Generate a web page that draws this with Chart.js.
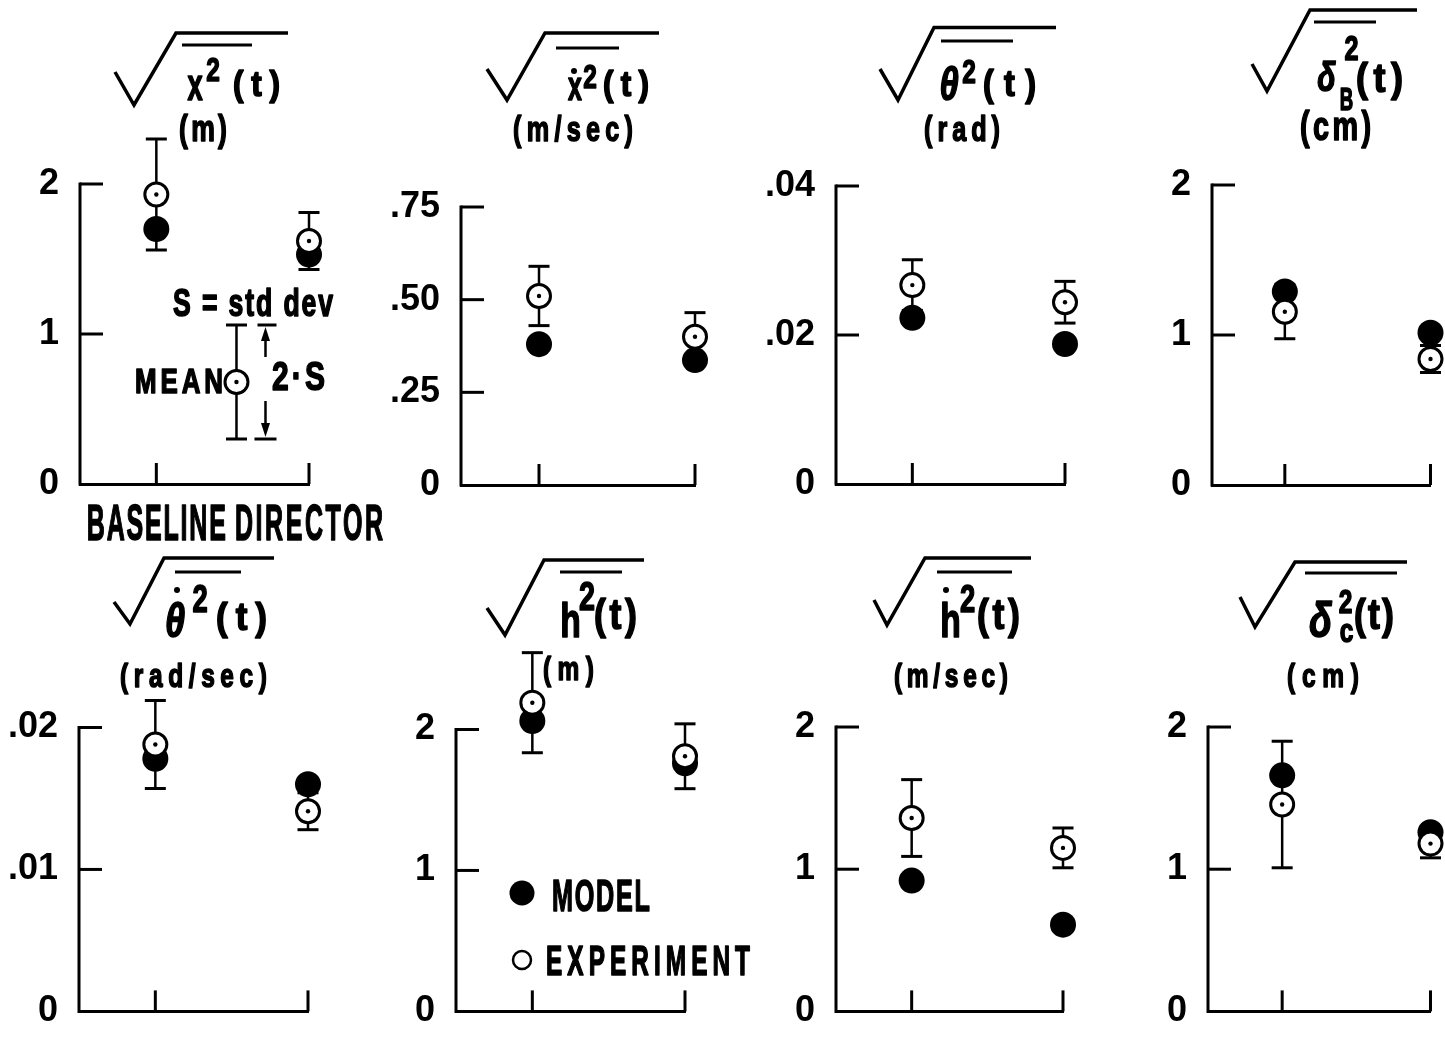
<!DOCTYPE html>
<html>
<head>
<meta charset="utf-8">
<title>RMS response: baseline vs director</title>
<script src="https://cdn.jsdelivr.net/npm/chart.js@4.4.1/dist/chart.umd.min.js"></script>
<style>
  html, body { margin: 0; padding: 0; background: #fff; overflow: hidden; }
  #stage { position: relative; width: 1445px; height: 1054px; }
  #stage canvas { position: absolute; left: 0; top: 0; }
</style>
</head>
<body>
<div id="stage"></div>
<script>
// ---------------- data ----------------
const categories = ['BASELINE', 'DIRECTOR'];
const categoryX = [1, 3];

const quantities = ['x', 'xdot', 'theta', 'deltaB', 'thetadot', 'h', 'hdot', 'deltaC'];
const units = ['(m)', '(m/sec)', '(rad)', '(cm)', '(rad/sec)', '(m)', '(m/sec)', '(cm)'];

// model prediction, [baseline, director]
const modelRms = [
  [1.70, 1.53], [0.38, 0.337], [0.0223, 0.0188], [1.29, 1.015],
  [0.0178, 0.0160], [2.06, 1.76], [0.92, 0.61], [1.66, 1.26]
];
// experiment mean, [baseline, director]
const expMean = [
  [1.93, 1.62], [0.51, 0.40], [0.0267, 0.0244], [1.155, 0.84],
  [0.0188, 0.0141], [2.19, 1.81], [1.36, 1.15], [1.455, 1.18]
];
// experiment standard deviation S (bars span mean - S .. mean + S)
const expStd = [
  [0.37, 0.19], [0.08, 0.065], [0.0034, 0.0028], [0.18, 0.09],
  [0.0031, 0.0013], [0.355, 0.23], [0.27, 0.14], [0.445, 0.10]
];

const yMax = [2, 0.75, 0.04, 2, 0.02, 2, 2, 2];
const yTicks = [
  [0, 1, 2], [0, 0.25, 0.5, 0.75], [0, 0.02, 0.04], [0, 1, 2],
  [0, 0.01, 0.02], [0, 1, 2], [0, 1, 2], [0, 1, 2]
];
const yTickLabels = [
  ['0', '1', '2'], ['0', '.25', '.50', '.75'], ['0', '.02', '.04'], ['0', '1', '2'],
  ['0', '.01', '.02'], ['0', '1', '2'], ['0', '1', '2'], ['0', '1', '2']
];

// key for the error bar symbol (first panel)
const keyMean = 0.68;
const keyStd = 0.38;

// ---------------- layout ----------------
const PAGE_W = 1445, PAGE_H = 1054;
const AXIS_W = 70;
const HEAD_ROOM = 1.3;   // scale runs past the top tick so high points still get drawn
const INK = '#000';
const FACE = '"Liberation Sans Narrow", "Liberation Sans", Arial, sans-serif';

// plot boxes: left = y axis, right = director tick, top = highest tick, bottom = zero
const frames = [
  { l: 80, r: 309, t: 184, b: 484 },
  { l: 461, r: 695, t: 207, b: 485 },
  { l: 836, r: 1065, t: 186, b: 484 },
  { l: 1212, r: 1440, t: 185, b: 485 },
  { l: 79, r: 308, t: 732, b: 1031 },
  { l: 456, r: 685, t: 734, b: 1031 },
  { l: 836, r: 1063, t: 732, b: 1033 },
  { l: 1208, r: 1438, t: 732, b: 1033 }
];

// square-root headings; parts = [text, left, baseline, size, width, squeeze, italic]
const heads = [
  { rad: [[115, 72], [134, 105], [176, 33], [288, 33]], bar: [182, 252, 45],
    parts: [['x', 187, 100, 44, 16, 0.62], ['2', 206, 81, 34, 14], ['(t)', 233, 96, 35, 47, 0.9]],
    dots: [], unit: [179, 141, 37, 48] },
  { rad: [[487, 69], [507, 100], [545, 33], [659, 33]], bar: [556, 619, 48],
    parts: [['x', 567, 100, 40, 16, 0.62], ['2', 583, 88, 34, 14], ['(t)', 603, 96, 35, 46, 0.9]],
    dots: [[574, 71]], unit: [513, 141, 35, 120] },
  { rad: [[880, 69], [898, 100], [934, 27.5], [1056, 27.5]], bar: [941, 1013, 41],
    parts: [['θ', 938, 100, 46, 22, 0.75, true], ['2', 961, 83, 34, 16], ['(t)', 983, 96, 36, 53, 0.9]],
    dots: [], unit: [924, 141, 35, 76] },
  { rad: [[1252, 64], [1267, 91], [1310, 10], [1417, 10]], bar: [1314, 1376, 22],
    parts: [['δ', 1313, 91, 40, 27, 0.75, true], ['2', 1343, 60, 35, 17], ['B', 1338, 110, 31, 17, 0.6],
            ['(t)', 1356, 92, 40, 47, 0.9]],
    dots: [], unit: [1300, 140, 40, 71] },
  { rad: [[114, 602], [130, 624], [164, 558], [274, 558]], bar: [175, 241, 572],
    parts: [['θ', 163, 637, 48, 24, 0.75, true], ['2', 190, 612, 38, 20], ['(t)', 216, 630, 39, 51, 0.9]],
    dots: [[177, 590]], unit: [120, 687, 34, 147] },
  { rad: [[487, 608], [505, 635], [544, 560], [644, 560]], bar: [560, 622, 572],
    parts: [['h', 561, 637, 48, 19, 0.7], ['2', 580, 610, 40, 14], ['(t)', 594, 629, 42, 43, 0.85]],
    dots: [], unit: [543, 680, 34, 51] },
  { rad: [[874, 600], [887, 625], [925, 558], [1031, 558]], bar: [937, 1012, 572],
    parts: [['h', 941, 637, 48, 19, 0.7], ['2', 960, 612, 38, 15], ['(t)', 977, 629, 42, 43, 0.85]],
    dots: [[946, 590]], unit: [894, 687, 34, 114] },
  { rad: [[1240, 597], [1255, 627], [1295, 562], [1407, 562]], bar: [1305, 1397, 573],
    parts: [['δ', 1304, 637, 50, 33, 0.75, true], ['2', 1337, 613, 34, 17], ['c', 1339, 642, 34, 15],
            ['(t)', 1354, 629, 42, 40, 0.85]],
    dots: [], unit: [1287, 687, 34, 72] }
];

// ---------------- drawing helpers ----------------
function line(ctx, x1, y1, x2, y2) {
  ctx.beginPath();
  ctx.moveTo(x1, y1);
  ctx.lineTo(x2, y2);
  ctx.stroke();
}

function dot(ctx, x, y, r) {
  ctx.beginPath();
  ctx.arc(x, y, r, 0, Math.PI * 2);
  ctx.fill();
}

// stencil-style lettering: condensed, heavy glyphs spread over a fixed width
function letter(ctx, text, left, base, size, width, squeeze, italic) {
  const sq = squeeze || 0.72;
  ctx.save();
  ctx.fillStyle = INK;
  ctx.strokeStyle = INK;
  ctx.lineWidth = 1.6;
  ctx.lineJoin = 'round';
  ctx.font = (italic ? 'italic ' : '') + 'bold ' + size + 'px ' + FACE;
  ctx.textAlign = 'left';
  ctx.textBaseline = 'alphabetic';
  const n = Array.from(text).length;
  const natural = ctx.measureText(text).width;
  let x0 = left;
  if (n > 1) {
    ctx.letterSpacing = ((width / sq - natural) / (n - 1)).toFixed(2) + 'px';
  } else {
    x0 = left + (width - natural * sq) / 2;
  }
  ctx.translate(x0, base);
  ctx.scale(sq, 1);
  ctx.fillText(text, 0, 0);
  ctx.strokeText(text, 0, 0);
  ctx.restore();
}

function errorBar(ctx, x, yTop, yBot) {
  ctx.lineWidth = 2.5;
  line(ctx, x, yTop, x, yBot);
  ctx.lineWidth = 3;
  line(ctx, x - 10.5, yTop, x + 10.5, yTop);
  line(ctx, x - 10.5, yBot, x + 10.5, yBot);
}

function ring(ctx, x, y, r, lw, withDot) {
  ctx.save();
  ctx.fillStyle = '#fff';
  ctx.strokeStyle = INK;
  ctx.lineWidth = lw;
  ctx.beginPath();
  ctx.arc(x, y, r, 0, Math.PI * 2);
  ctx.fill();
  ctx.stroke();
  ctx.fillStyle = INK;
  if (withDot) dot(ctx, x, y, 2.2);
  ctx.restore();
}

function arrowHead(ctx, x, y, dir) {
  ctx.beginPath();
  ctx.moveTo(x, y);
  ctx.lineTo(x - 4.5, y + dir * 14);
  ctx.lineTo(x + 4.5, y + dir * 14);
  ctx.closePath();
  ctx.fill();
}

function drawHead(ctx, i) {
  const h = heads[i];
  ctx.save();
  ctx.strokeStyle = INK;
  ctx.fillStyle = INK;
  ctx.lineWidth = 3.5;
  ctx.lineJoin = 'miter';
  ctx.beginPath();
  h.rad.forEach(([px, py], k) => (k ? ctx.lineTo(px, py) : ctx.moveTo(px, py)));
  ctx.stroke();
  ctx.lineWidth = 3;
  line(ctx, h.bar[0], h.bar[2], h.bar[1], h.bar[2]);
  h.parts.forEach(p => letter(ctx, p[0], p[1], p[2], p[3], p[4], p[5], p[6]));
  h.dots.forEach(([px, py]) => dot(ctx, px, py, 3));
  const u = h.unit;
  letter(ctx, units[i], u[0], u[1], u[2], u[3]);
  ctx.restore();
}

// ---------------- plugin ----------------
const panelArt = {
  id: 'panelArt',
  beforeDatasetsDraw(chart, args, opts) {
    const { ctx, chartArea: a, scales: { x, y } } = chart;
    const i = opts.panel;
    ctx.save();
    ctx.strokeStyle = INK;
    ctx.lineWidth = 3;
    // value axis stops at the top tick
    line(ctx, a.left, y.getPixelForValue(0) + 1.5, a.left, y.getPixelForValue(yMax[i]) - 1.5);
    // tick marks point into the plot
    y.ticks.forEach(t => {
      if (t.value === 0) return;
      const py = y.getPixelForValue(t.value);
      line(ctx, a.left, py, a.left + 23, py);
    });
    categoryX.forEach(v => {
      const px = x.getPixelForValue(v);
      line(ctx, px, a.bottom, px, a.bottom - 21);
    });
    // +/- S bars under the experiment rings
    categoryX.forEach((v, k) => {
      errorBar(ctx, x.getPixelForValue(v),
        y.getPixelForValue(expMean[i][k] + expStd[i][k]),
        y.getPixelForValue(expMean[i][k] - expStd[i][k]));
    });
    ctx.restore();
  },
  afterDatasetsDraw(chart, args, opts) {
    const { ctx, scales: { x, y } } = chart;
    const i = opts.panel;
    ctx.save();
    ctx.fillStyle = INK;
    ctx.strokeStyle = INK;
    chart.getDatasetMeta(0).data.forEach(pt => dot(ctx, pt.x, pt.y, 2.2));
    drawHead(ctx, i);

    if (i === 0) {
      // symbol key: mean ring with +/- S bar and a 2S bracket
      const kx = x.getPixelForValue(2.05);
      const top = y.getPixelForValue(keyMean + keyStd);
      const bot = y.getPixelForValue(keyMean - keyStd);
      errorBar(ctx, kx, top, bot);
      ring(ctx, kx, y.getPixelForValue(keyMean), 11.5, 3, true);
      const bx = x.getPixelForValue(2.43);
      ctx.lineWidth = 3;
      line(ctx, bx - 8, top, bx + 11, top);
      line(ctx, bx - 11, bot, bx + 11, bot);
      ctx.lineWidth = 2.5;
      line(ctx, bx, top + 10, bx, top + 32);
      line(ctx, bx, bot - 38, bx, bot - 10);
      arrowHead(ctx, bx, top + 2, 1);
      arrowHead(ctx, bx, bot - 2, -1);
      letter(ctx, 'S = std dev', 173, 316, 38, 160, 0.7);
      letter(ctx, 'MEAN', 135, 393, 35, 88, 0.74);
      letter(ctx, '2·S', 272, 390, 40, 53, 0.75);
      categories.forEach((c, k) => {
        const w = k ? 148 : 139;
        letter(ctx, c, x.getPixelForValue(categoryX[k]) - w / 2, 540, 50, w, 0.5);
      });
    }

    if (i === 5) {
      // symbol legend
      const ds = chart.data.datasets;
      dot(ctx, 522, 893, 12.5);
      letter(ctx, ds[1].label, 552, 911, 45, 98, 0.56);
      ring(ctx, 522, 960, 9, 2.5, false);
      letter(ctx, ds[0].label, 546, 975, 42, 204, 0.58);
    }
    ctx.restore();
  }
};

// ---------------- charts ----------------
const stage = document.getElementById('stage');

quantities.forEach((q, i) => {
  const f = frames[i];
  const canvas = document.createElement('canvas');
  canvas.id = 'rms-' + q;
  canvas.width = PAGE_W;
  canvas.height = PAGE_H;
  stage.appendChild(canvas);

  const areaTop = f.b - (f.b - f.t) * HEAD_ROOM;

  new Chart(canvas, {
    type: 'scatter',
    data: {
      datasets: [
        {
          label: 'EXPERIMENT',
          data: categoryX.map((cx, k) => ({ x: cx, y: expMean[i][k] })),
          pointRadius: 11.5,
          pointBorderWidth: 3,
          pointBorderColor: INK,
          pointBackgroundColor: '#fff',
          clip: false,
          order: 0
        },
        {
          label: 'MODEL',
          data: categoryX.map((cx, k) => ({ x: cx, y: modelRms[i][k] })),
          pointRadius: 13,
          pointBorderWidth: 0,
          pointBackgroundColor: INK,
          clip: false,
          order: 1
        }
      ]
    },
    options: {
      responsive: false,
      animation: false,
      events: [],
      layout: {
        padding: { left: f.l - AXIS_W, top: areaTop, right: PAGE_W - f.r, bottom: PAGE_H - f.b }
      },
      plugins: {
        legend: { display: false },
        tooltip: { enabled: false },
        panelArt: { panel: i }
      },
      scales: {
        x: {
          type: 'linear', min: 0, max: 3,
          grid: { display: false, drawTicks: false },
          border: { display: true, color: INK, width: 3 },
          ticks: { display: false },
          afterFit: s => { s.height = 0; }
        },
        y: {
          type: 'linear', min: 0, max: yMax[i] * HEAD_ROOM,
          afterBuildTicks: s => { s.ticks = yTicks[i].map(v => ({ value: v })); },
          grid: { display: false, drawTicks: false },
          border: { display: false },
          ticks: {
            color: INK,
            padding: 21,
            autoSkip: false,
            font: { family: FACE, size: 36, weight: 'bold' },
            callback: (v, k) => yTickLabels[i][k]
          },
          afterFit: s => { s.width = AXIS_W; }
        }
      }
    },
    plugins: [panelArt]
  });
});
</script>
</body>
</html>
